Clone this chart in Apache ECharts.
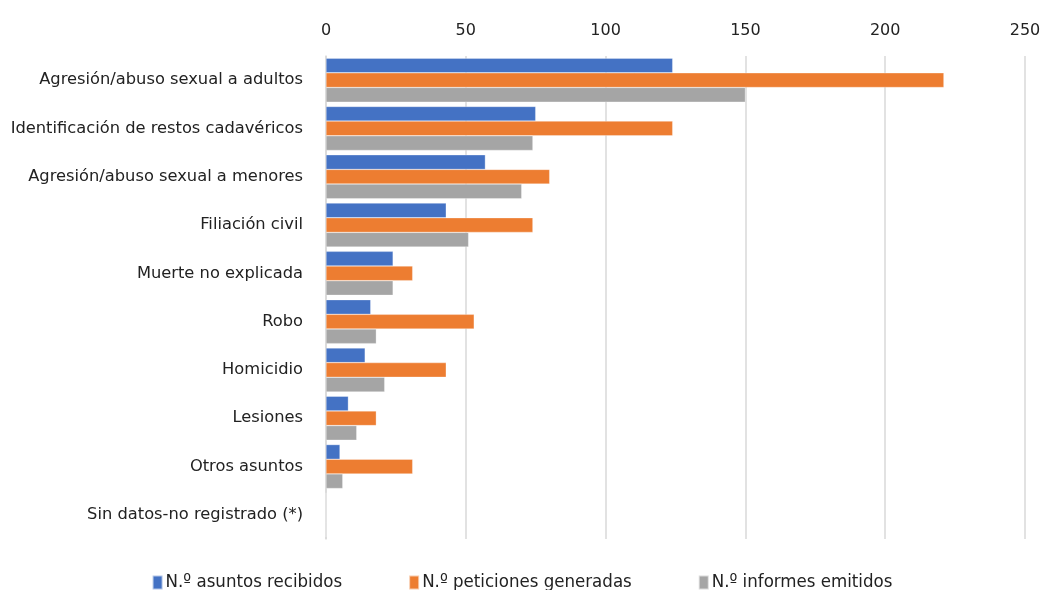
<!DOCTYPE html>
<html>
<head>
<meta charset="utf-8">
<script src="https://cdn.jsdelivr.net/npm/echarts@6/dist/echarts.min.js"></script>
<style>
  html, body { margin: 0; padding: 0; background: #fff; }
  #chart { width: 1044px; height: 590px; }
</style>
</head>
<body>
<div id="chart"></div>
<script>
// Categories, top to bottom
const categories = [
  'Agresión/abuso sexual a adultos',
  'Identificación de restos cadavéricos',
  'Agresión/abuso sexual a menores',
  'Filiación civil',
  'Muerte no explicada',
  'Robo',
  'Homicidio',
  'Lesiones',
  'Otros asuntos',
  'Sin datos-no registrado (*)'
];

const asuntosRecibidos    = [124, 75, 57, 43, 24, 16, 14, 8, 5, 0];
const peticionesGeneradas = [221, 124, 80, 74, 31, 53, 43, 18, 31, 0];
const informesEmitidos    = [150, 74, 70, 51, 24, 18, 21, 11, 6, 0];

const seriesNames = ['N.º asuntos recibidos', 'N.º peticiones generadas', 'N.º informes emitidos'];
const axisTicks = [0, 50, 100, 150, 200, 250];

const colors = ['#4472C4', '#ED7D31', '#A5A5A5'];

const chart = echarts.init(document.getElementById('chart'));

function barSeries(name, data, color) {
  return {
    name: name,
    type: 'bar',
    data: data,
    barGap: '0%',
    barCategoryGap: '9%',
    itemStyle: { color: color, borderColor: 'rgba(255,255,255,0.6)', borderWidth: 0.5 }
  };
}

chart.setOption({
  animation: false,
  color: colors,
  textStyle: { fontFamily: 'DejaVu Sans' },
  grid: { left: 326, right: 19, top: 56, bottom: 51, containLabel: false },
  xAxis: {
    type: 'value',
    position: 'top',
    min: axisTicks[0],
    max: axisTicks[axisTicks.length - 1],
    interval: axisTicks[1] - axisTicks[0],
    axisLine: { show: false },
    axisTick: { show: false },
    axisLabel: { color: '#222', fontSize: 16, margin: 17 },
    splitLine: { lineStyle: { color: '#d9d9d9', width: 1.5 } }
  },
  yAxis: {
    type: 'category',
    data: categories,
    inverse: true,
    axisLine: { show: true, lineStyle: { color: '#d9d9d9', width: 1.5 } },
    axisTick: { show: false },
    axisLabel: { color: '#222', fontSize: 16.3, margin: 23 }
  },
  legend: {
    bottom: -7,
    left: 'center',
    icon: 'rect',
    itemWidth: 10,
    itemHeight: 14,
    itemGap: 66,
    textStyle: { color: '#222', fontSize: 18.5, fontFamily: 'DejaVu Sans Condensed', padding: [0, 0, 0, -2] },
    data: seriesNames
  },
  series: [
    barSeries(seriesNames[0], asuntosRecibidos, colors[0]),
    barSeries(seriesNames[1], peticionesGeneradas, colors[1]),
    barSeries(seriesNames[2], informesEmitidos, colors[2])
  ]
});
</script>
</body>
</html>
